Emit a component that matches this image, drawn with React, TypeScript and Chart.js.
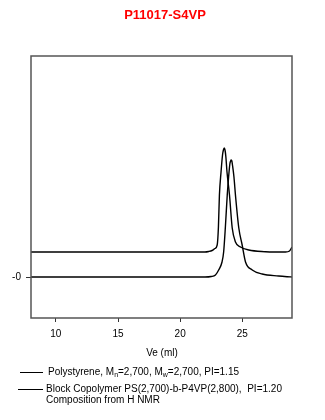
import React, { useEffect, useRef } from "react";
import { Chart, registerables } from "chart.js";

Chart.register(...registerables);

const chartTitle = "P11017-S4VP";
const xAxisTitle = "Ve (ml)";
const xTickValues = [10, 15, 20, 25];
const yTickValues = [0];
const yTickLabels = ["-0"];

// Block copolymer trace (upper, offset baseline)
const bcVe = [8.0, 12.0, 16.0, 20.0, 22.0, 22.3, 22.57, 22.8, 22.98, 23.08, 23.16, 23.29, 23.41, 23.48, 23.55, 23.61, 23.68, 23.77, 23.97, 24.19, 24.45, 24.85, 25.52, 26.87, 27.5, 28.48, 28.8, 29.0];
const bcSignal = [0.25, 0.25, 0.25, 0.25, 0.25, 0.255, 0.265, 0.285, 0.32, 0.5, 0.82, 1.05, 1.22, 1.27, 1.29, 1.27, 1.2, 1.05, 0.82, 0.49, 0.35, 0.3, 0.27, 0.253, 0.25, 0.25, 0.26, 0.3];

// Polystyrene trace (lower, zero baseline)
const psVe = [8.0, 12.0, 16.0, 20.0, 22.0, 22.5, 22.84, 23.1, 23.37, 23.5, 23.64, 23.79, 23.9, 24.0, 24.06, 24.11, 24.16, 24.21, 24.33, 24.45, 24.72, 24.99, 25.26, 25.8, 26.6, 27.92, 28.6, 29.0];
const psSignal = [0.0, 0.0, 0.0, 0.0, 0.0, 0.005, 0.02, 0.07, 0.15, 0.25, 0.5, 0.82, 1.0, 1.13, 1.16, 1.17, 1.16, 1.12, 1.0, 0.82, 0.49, 0.32, 0.15, 0.07, 0.03, 0.01, 0.003, 0.0];

const legendPs = [
  { t: "Polystyrene, M" },
  { t: "n", sub: true },
  { t: "=2,700, M" },
  { t: "w", sub: true },
  { t: "=2,700, PI=1.15" },
];
const legendBc1 = "Block Copolymer PS(2,700)-b-P4VP(2,800),  PI=1.20";
const legendBc2 = "Composition from H NMR";

const FONT = "Arial, 'Liberation Sans', sans-serif";

const decorPlugin = {
  id: "decor",
  afterDraw(chart: any) {
    const ctx = chart.ctx as CanvasRenderingContext2D;
    const a = chart.chartArea;
    ctx.save();
    // box
    ctx.strokeStyle = "#555";
    ctx.lineWidth = 1.5;
    ctx.strokeRect(a.left, a.top, a.right - a.left, a.bottom - a.top);
    // title
    ctx.fillStyle = "#ff0000";
    ctx.font = `bold 13px ${FONT}`;
    ctx.textAlign = "center";
    ctx.textBaseline = "middle";
    ctx.fillText(chartTitle, 165, 15);
    // x axis title
    ctx.fillStyle = "#000";
    ctx.font = `10px ${FONT}`;
    ctx.fillText(xAxisTitle, 162, 353);
    // legend
    ctx.textAlign = "left";
    ctx.strokeStyle = "#000";
    ctx.lineWidth = 1;
    ctx.beginPath();
    ctx.moveTo(20, 372.5);
    ctx.lineTo(43, 372.5);
    ctx.moveTo(18, 389.5);
    ctx.lineTo(43, 389.5);
    ctx.stroke();
    let x = 48;
    for (const seg of legendPs) {
      if (seg.sub) {
        ctx.font = `7px ${FONT}`;
        ctx.fillText(seg.t, x, 375);
      } else {
        ctx.font = `10px ${FONT}`;
        ctx.fillText(seg.t, x, 372);
      }
      x += ctx.measureText(seg.t).width;
    }
    ctx.font = `10px ${FONT}`;
    ctx.fillText(legendBc1, 46, 389);
    ctx.fillText(legendBc2, 46, 400);
    ctx.restore();
  },
};

export default function App() {
  const ref = useRef<HTMLCanvasElement>(null);
  useEffect(() => {
    if (!ref.current) return;
    const chart = new Chart(ref.current, {
      type: "line",
      data: {
        datasets: [
          {
            label: "Block Copolymer",
            data: bcVe.map((v, i) => ({ x: v, y: bcSignal[i] })),
            borderColor: "#000",
            borderWidth: 1.4,
            pointRadius: 0,
            cubicInterpolationMode: "monotone",
            fill: false,
          },
          {
            label: "Polystyrene",
            data: psVe.map((v, i) => ({ x: v, y: psSignal[i] })),
            borderColor: "#000",
            borderWidth: 1.4,
            pointRadius: 0,
            cubicInterpolationMode: "monotone",
            fill: false,
          },
        ],
      },
      options: {
        responsive: false,
        animation: false,
        layout: { padding: { left: 0, right: 33, top: 56, bottom: 52 } },
        plugins: { legend: { display: false }, tooltip: { enabled: false }, title: { display: false } },
        scales: {
          x: {
            type: "linear",
            min: 8,
            max: 29,
            border: { display: false },
            grid: { drawOnChartArea: false, drawTicks: true, tickLength: 4, color: "#333" },
            ticks: { color: "#000", padding: 6, font: { family: FONT, size: 10 }, maxRotation: 0 },
            afterBuildTicks: (s: any) => {
              s.ticks = xTickValues.map((v) => ({ value: v }));
            },
            afterFit: (s: any) => {
              s.height = 50;
            },
          },
          y: {
            type: "linear",
            min: -0.41,
            max: 2.21,
            border: { display: false },
            grid: { drawOnChartArea: false, drawTicks: true, tickLength: 5, color: "#333" },
            ticks: {
              color: "#000",
              padding: 5,
              font: { family: FONT, size: 10 },
              callback: (v: any) => {
                const i = yTickValues.indexOf(Number(v));
                return i >= 0 ? yTickLabels[i] : "";
              },
            },
            afterBuildTicks: (s: any) => {
              s.ticks = yTickValues.map((v) => ({ value: v }));
            },
            afterFit: (s: any) => {
              s.width = 31;
            },
          },
        },
      },
      plugins: [decorPlugin],
    } as any);
    return () => chart.destroy();
  }, []);
  return (
    <div style={{ position: "absolute", left: 0, top: 0, width: 325, height: 420, background: "#fff" }}>
      <canvas ref={ref} width={325} height={420} style={{ display: "block" }} />
    </div>
  );
}
